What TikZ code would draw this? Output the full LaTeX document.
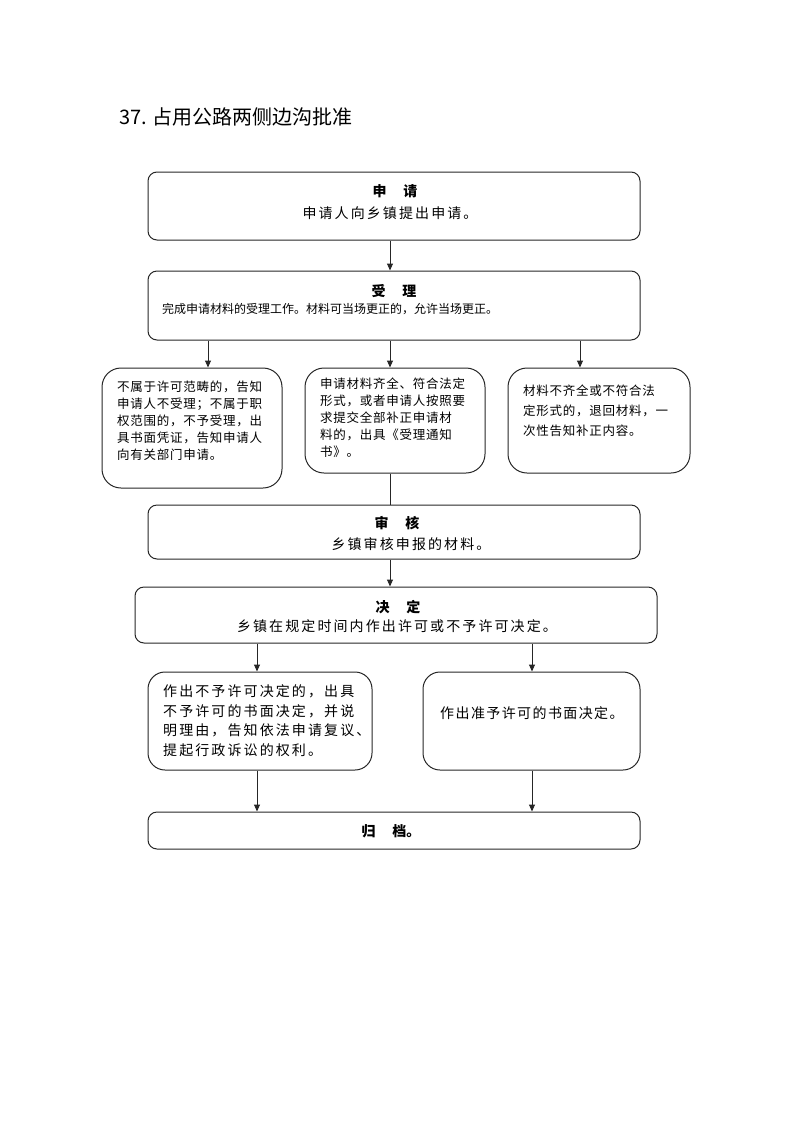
\documentclass[tikz,border=0pt]{standalone}
\usepackage{fontspec}
\setmainfont{Noto Sans CJK SC}
\newfontfamily\cjk{Noto Sans CJK SC}
\usetikzlibrary{arrows.meta}
\tikzset{
  box/.style={draw=black!85, line width=1pt, rounded corners=9pt, inner sep=0pt},
  sbox/.style={box, rounded corners=19pt},
  arr/.style={draw=black!85, line width=1pt, -{Triangle[length=7pt,width=6pt]}},
  ln/.style={draw=black!85, line width=1pt},
  head/.style={inner sep=0pt, font=\fontsize{14}{16}\selectfont\bfseries},
  body/.style={inner sep=0pt, font=\fontsize{14}{16}\selectfont\addfontfeature{LetterSpace=15}},
  small/.style={inner sep=0pt, font=\fontsize{12}{14}\selectfont},
  mid/.style={inner sep=0pt, align=left, anchor=north west, font=\fontsize{12.5}{17}\selectfont\addfontfeature{LetterSpace=6}},
  big/.style={inner sep=0pt, align=left, anchor=north west, font=\fontsize{14}{19.5}\selectfont\addfontfeature{LetterSpace=15}},
}
\begin{document}
\begin{tikzpicture}[x=1pt,y=-1pt]
\useasboundingbox (0,0) rectangle (793,1122);
% title
\node[inner sep=0pt, anchor=west, font=\fontsize{20}{24}\selectfont] (title) at (119,117) {37. 占用公路两侧边沟批准};
% boxes
\node[box, minimum width=492pt, minimum height=68pt] (b1) at (394,206) {};
\node[box, minimum width=492pt, minimum height=69pt] (b2) at (394,305.5) {};
\node[sbox, minimum width=180pt, minimum height=120pt] (b3a) at (192,428) {};
\node[sbox, minimum width=180pt, minimum height=105pt] (b3b) at (395,420.5) {};
\node[sbox, minimum width=182pt, minimum height=105pt] (b3c) at (599,420.5) {};
\node[box, minimum width=492pt, minimum height=54pt] (b4) at (394,532) {};
\node[box, minimum width=522pt, minimum height=56pt] (b5) at (396,615) {};
\node[sbox, rounded corners=17pt, minimum width=224pt, minimum height=98pt] (b6a) at (260,721) {};
\node[sbox, rounded corners=17pt, minimum width=217pt, minimum height=98pt] (b6b) at (531.5,721) {};
\node[box, minimum width=492pt, minimum height=37pt] (b7) at (394,830.5) {};
% texts
\node[head] (t1) at (395,191) {申\hspace{1.2em}请};
\node[body] (c1) at (390,213) {申请人向乡镇提出申请。};
\node[head] (t2) at (394,291) {受\hspace{1.2em}理};
\node[small, anchor=west] (c2) at (162,309) {完成申请材料的受理工作。材料可当场更正的，允许当场更正。};
\node[mid] (c3a) at (117,381) {不属于许可范畴的，告知\\申请人不受理；不属于职\\权范围的，不予受理，出\\具书面凭证，告知申请人\\向有关部门申请。};
\node[mid] (c3b) at (320,378) {申请材料齐全、符合法定\\形式，或者申请人按照要\\求提交全部补正申请材\\料的，出具《受理通知\\书》。};
\node[mid, font=\fontsize{12.5}{20}\selectfont\addfontfeature{LetterSpace=6}] (c3c) at (523,385) {材料不齐全或不符合法\\定形式的，退回材料，一\\次性告知补正内容。};
\node[head] (t4) at (397,523) {审\hspace{1.2em}核};
\node[body] (c4) at (411,544) {乡镇审核申报的材料。};
\node[head] (t5) at (398,607) {决\hspace{1.2em}定};
\node[body] (c5) at (397,626) {乡镇在规定时间内作出许可或不予许可决定。};
\node[big] (c6a) at (163,684.5) {作出不予许可决定的，出具\\不予许可的书面决定，并说\\明理由，告知依法申请复议、\\提起行政诉讼的权利。};
\node[body, anchor=west, font=\fontsize{14}{16}\selectfont\addfontfeature{LetterSpace=10}] (c6b) at (440,713) {作出准予许可的书面决定。};
\node[head] (t7) at (391,831) {归\hspace{1.2em}档。};
% connector x positions
\coordinate (x390) at (390,0);
\coordinate (x208) at (208,0);
\coordinate (x580) at (580,0);
\coordinate (x257) at (257,0);
\coordinate (x532) at (532,0);
% connectors
\draw[arr] (b1.south -| x390) -- (b2.north -| x390);
\draw[arr] (b2.south -| x208) -- (b3a.north -| x208);
\draw[arr] (b2.south -| x390) -- (b3b.north -| x390);
\draw[arr] (b2.south -| x580) -- (b3c.north -| x580);
\draw[ln] (b3b.south -| x390) -- (b4.north -| x390);
\draw[arr] (b4.south -| x390) -- (b5.north -| x390);
\draw[arr] (b5.south -| x257) -- (b6a.north -| x257);
\draw[arr] (b5.south -| x532) -- (b6b.north -| x532);
\draw[arr] (b6a.south -| x257) -- (b7.north -| x257);
\draw[arr] (b6b.south -| x532) -- (b7.north -| x532);
\end{tikzpicture}
\end{document}
